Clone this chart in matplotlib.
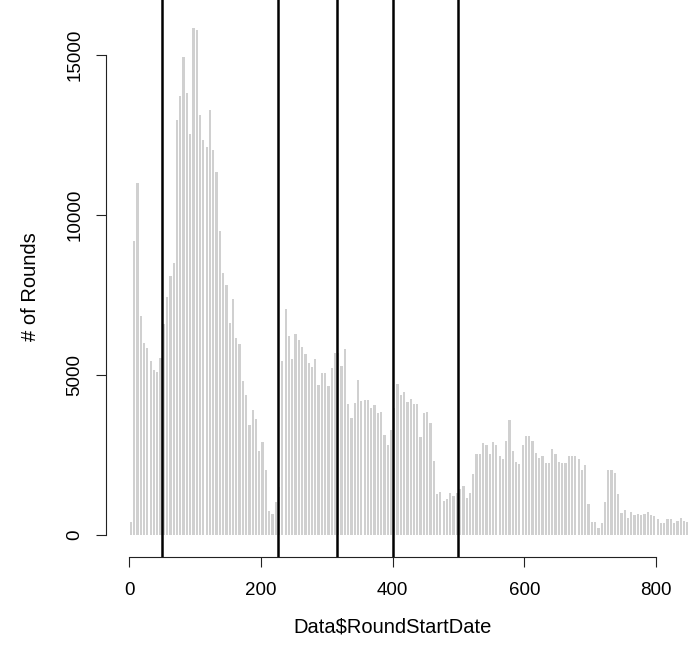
import matplotlib
matplotlib.use('Agg')
import matplotlib.pyplot as plt
import numpy as np

plt.rcParams['font.family'] = ['Liberation Sans', 'DejaVu Sans']

# histogram counts, bins of width 5 starting at 0
bin_width = 5
counts = [
    415, 9191, 10997, 6840, 6005, 5827, 5430, 5148, 5096, 5513,
    6579, 7436, 8093, 8480, 12970, 13701, 14934, 13807, 12511, 15822,
    15771, 13107, 12323, 12115, 13285, 12030, 11331, 9482, 8177, 7811,
    6611, 7362, 6161, 5973, 4803, 4364, 3445, 3916, 3623, 2630,
    2902, 2036, 761, 646, 1043, 1500, 5430, 7070, 6212, 5503,
    6265, 6077, 5868, 5640, 5378, 5241, 5503, 4700, 5065, 5065,
    4647, 5200, 5690, 5690, 5272, 5815, 4094, 3654, 4125, 4856,
    4175, 4207, 4207, 3966, 4072, 3810, 3841, 3110, 2798, 3289,
    3966, 4719, 4364, 4469, 4157, 4260, 4104, 4104, 3058, 3810,
    3841, 3498, 2296, 1274, 1357, 1065, 1127, 1305, 1231, 1300,
    1440, 1543, 1146, 1305, 1899, 2536, 2540, 2870, 2820, 2527,
    2902, 2820, 2452, 2380, 2945, 3601, 2611, 2277, 2214, 2820,
    3079, 3079, 2923, 2558, 2420, 2473, 2245, 2245, 2692, 2527,
    2277, 2245, 2245, 2452, 2452, 2452, 2380, 2036, 2192, 959,
    397, 397, 228, 365, 1021, 2036, 2036, 1930, 1274, 678,
    781, 520, 710, 625, 670, 640, 645, 705, 620, 600,
    490, 370, 364, 489, 489, 364, 427, 541, 427, 395,
]
bin_left = np.arange(len(counts)) * bin_width

season_breaks = [50, 226, 316, 401, 500]
x_ticks = [0, 200, 400, 600, 800]
y_ticks = [0, 5000, 10000, 15000]
x_label = 'Data$RoundStartDate'
y_label = '# of Rounds'

W, H = 688, 651
fig = plt.figure(figsize=(W / 100, H / 100), dpi=100)
left_px, right_px, top_px, bottom_px = 105.7, 688.0, 0.0, 557.0
ax = fig.add_axes([left_px / W, (H - bottom_px) / H,
                   (right_px - left_px) / W, (bottom_px - top_px) / H])
ax.set_xlim(-35.8, 848.6)
ax.set_ylim(-687, 16708)

ax.bar(bin_left + bin_width / 2, counts, width=3.4, color='#d0d0d0',
       linewidth=0, zorder=2)
for b in season_breaks:
    ax.axvline(b, color='black', lw=1.8, zorder=3)

for s in ['top', 'right']:
    ax.spines[s].set_visible(False)
ax.spines['left'].set_bounds(0, 15000)
ax.spines['bottom'].set_bounds(0, 800)
for s in ['left', 'bottom']:
    ax.spines[s].set_linewidth(0.8)
    ax.spines[s].set_color('#222222')

ax.set_xticks(x_ticks)
ax.set_xticklabels([str(t) for t in x_ticks])
ax.set_yticks(y_ticks)
ax.set_yticklabels([str(t) for t in y_ticks], rotation=90, va='center')
ax.tick_params(axis='both', direction='out', length=7.2, width=0.8,
               color='#222222', labelsize=13.5)
ax.tick_params(axis='x', pad=11)
ax.tick_params(axis='y', pad=9)

fig.text(393 / W, 1 - 627 / H, x_label, ha='center', va='center', fontsize=14.5)
fig.text(30 / W, 1 - 287 / H, y_label, ha='center', va='center',
         rotation=90, fontsize=14.5)

fig.savefig('out.png', dpi=100)
